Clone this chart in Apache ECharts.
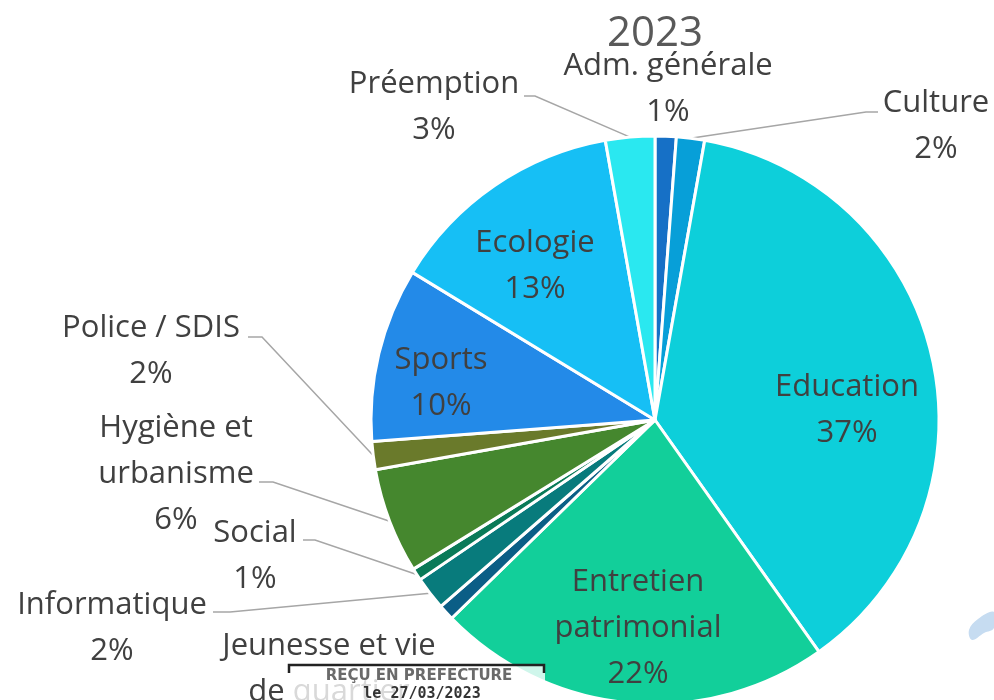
<!DOCTYPE html>
<html>
<head>
<meta charset="utf-8">
<script src="https://cdn.jsdelivr.net/npm/echarts@6/dist/echarts.min.js"></script>
<style>
  html, body { margin: 0; padding: 0; background: #fff; }
  #chart { width: 994px; height: 700px; }
</style>
</head>
<body>
<div id="chart"></div>
<script>
// postes de dépenses 2023 (part en %)
const categories = [
  'Adm. générale', 'Culture', 'Education', 'Entretien\npatrimonial',
  'Jeunesse et vie\nde quartier', 'Informatique', 'Social', 'Hygiène et\nurbanisme',
  'Police / SDIS', 'Sports', 'Ecologie', 'Préemption'
];
const values = [1.2, 1.6, 37.4, 22.5, 0.9, 1.9, 0.7, 6.0, 1.6, 9.9, 13.5, 2.8];
const colors = [
  '#1670c6', '#079fd8', '#0dcfda', '#12cf9a',
  '#0b5e86', '#087b7c', '#0a7a58', '#45872e',
  '#6a7a2b', '#238ae8', '#16bff5', '#2ae8f0'
];
const insideLabels = [2, 3, 9, 10];
const noLine = [0, 4];

// où Excel avait posé les étiquettes
const labelPos = {
  0: [668, 89], 1: [936, 126], 2: [847, 410], 3: [638, 628],
  4: [329, 692], 5: [112, 628], 6: [255, 556], 7: [176, 474],
  8: [151, 351], 9: [441, 383], 10: [535, 266], 11: [434, 107]
};
// coude et bout des traits de rappel, côté étiquette
const lineEnds = {
  1: [[866, 112], [878, 112]],
  5: [[230, 612], [213, 612]],
  6: [[315, 540], [303, 540]],
  7: [[273, 482], [259, 482]],
  8: [[262, 337], [248, 337]],
  11: [[535, 96], [524, 96]]
};

const chart = echarts.init(document.getElementById('chart'));

const font = '"Open Sans", "Noto Sans", sans-serif';

chart.setOption({
  animation: false,
  title: {
    text: '2023',
    left: 650,
    top: 8,
    textAlign: 'center',
    textStyle: { fontFamily: font, fontSize: 42, fontWeight: 'normal', color: '#595959' }
  },
  series: [{
    type: 'pie',
    center: [655, 420],
    radius: 284,
    startAngle: 90,
    clockwise: true,
    avoidLabelOverlap: false,
    percentPrecision: 0,
    itemStyle: { borderColor: '#fff', borderWidth: 3 },
    label: {
      show: true,
      position: 'outside',
      formatter: '{b}\n{d}%',
      fontFamily: font,
      fontSize: 31,
      lineHeight: 46,
      color: '#404040',
      align: 'center'
    },
    labelLine: {
      show: true,
      length: 20,
      length2: 10,
      lineStyle: { color: '#a6a6a6', width: 1.5 }
    },
    labelLayout: function (params) {
      const i = params.dataIndex;
      const p = labelPos[i];
      const out = { x: p[0], y: p[1], align: 'center', verticalAlign: 'middle' };
      if (lineEnds[i] && params.labelLinePoints) {
        out.labelLinePoints = [params.labelLinePoints[0], lineEnds[i][0], lineEnds[i][1]];
      }
      return out;
    },
    data: categories.map(function (name, i) {
      const item = { name: name, value: values[i], itemStyle: { color: colors[i] } };
      if (insideLabels.indexOf(i) >= 0) {
        item.label = { position: 'inside' };
        item.labelLine = { show: false };
      }
      if (noLine.indexOf(i) >= 0) {
        item.labelLine = { show: false };
      }
      return item;
    })
  }],
  graphic: [
    // tampon de la préfecture
    { type: 'rect', z: 100, shape: { x: 288, y: 664, width: 257, height: 40 }, style: { fill: 'rgba(255,255,255,0.8)' } },
    { type: 'polyline', z: 101, shape: { points: [[289, 673], [289, 665], [544, 665], [544, 673]] }, style: { stroke: '#222', lineWidth: 2.5, fill: null } },
    { type: 'text', z: 101, x: 419, y: 676, style: { text: 'REÇU EN PREFECTURE', fontFamily: '"DejaVu Sans", sans-serif', fontSize: 15, fontWeight: 'bold', fill: '#6a6a6a', align: 'center', verticalAlign: 'middle' } },
    { type: 'text', z: 101, x: 422, y: 694, style: { text: 'le 27/03/2023', fontFamily: '"DejaVu Sans Mono", monospace', fontSize: 15, fontWeight: 'bold', fill: '#333', align: 'center', verticalAlign: 'middle' } },
    {
      type: 'polygon',
      z: 100,
      shape: { points: [[994, 612], [978, 619], [969, 630], [972, 640], [984, 633], [994, 628]], smooth: 0.4 },
      style: { fill: '#c6dcf1' }
    }
  ]
});
</script>
</body>
</html>
